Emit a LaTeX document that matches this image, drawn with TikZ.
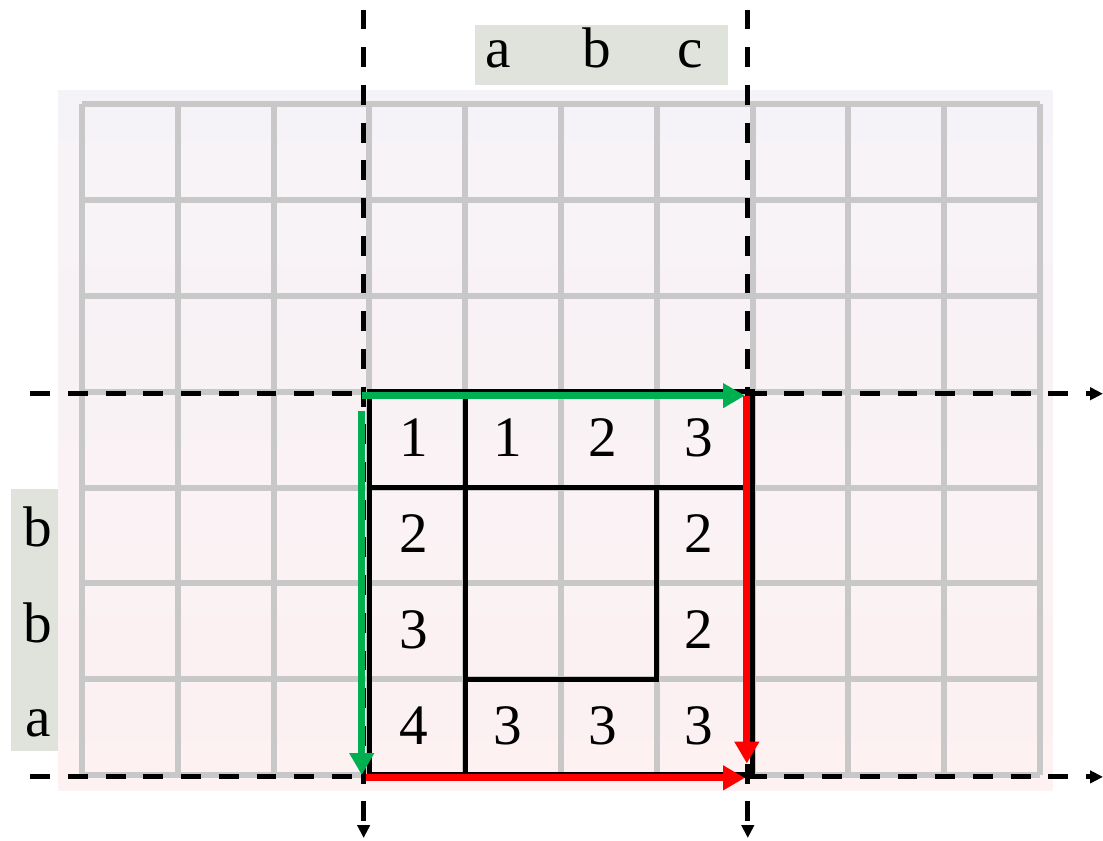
\documentclass[tikz,border=0pt]{standalone}
\usepackage{fontspec}
\setmainfont{Liberation Serif}
\usetikzlibrary{arrows.meta}

\definecolor{rejilla}{HTML}{C8C8C8}
\definecolor{fondoarriba}{HTML}{F6F3F8}
\definecolor{fondoabajo}{HTML}{FDF1F1}
\definecolor{etiqueta}{HTML}{E0E2DC}
\definecolor{verde}{HTML}{00B050}
\definecolor{rojo}{HTML}{FF0000}

\tikzset{
  eje/.style={line width=1.5pt, dash pattern=on 5.9pt off 5.3pt, -{Triangle[width=3.6pt,length=3.8pt]}},
  borde/.style={line width=1.5pt},
  flecha/.style={line width=2pt, -{Triangle[width=7pt,length=6.5pt]}},
  texto/.style={anchor=base, inner sep=0pt, font=\fontsize{17}{20}\selectfont},
}

\begin{document}
\begin{tikzpicture}
        \useasboundingbox (-0.856, -0.689) rectangle (10.658, 8.090);

        % Fondo
        \shade[top color=fondoarriba, bottom color=fondoabajo] (-0.25, -0.16) rectangle (10.13, 7.14);

        % Rejilla
        \draw[rejilla, line width=1.8pt] (0, 0) grid (10, 7);

        % Bordes de las celdas
        \draw[borde] (3, 0) rectangle (7, 4);
        \draw[borde] (3, 3) -- (7, 3);
        \draw[borde] (4, 0) -- (4, 4);
        \draw[borde] (4, 1) -- (6, 1) -- (6, 3);

        % Ejes discontinuos
        \draw[eje] (-0.54, 3.98) -- (10.658, 3.98);
        \draw[eje] (-0.54, -0.02) -- (10.658, -0.02);
        \draw[eje] (2.94, 7.99) -- (2.94, -0.658);
        \draw[eje] (6.95, 7.99) -- (6.95, -0.658);

        % Puntos de las flechas
        \coordinate (ini) at (2.92, 3.96);
        \coordinate (fin) at (6.92, 3.96);
        \coordinate (bajo) at (2.92, 3.80);
        \coordinate (esq) at (2.92, 0);
        \coordinate (rini) at (6.94, 3.96);
        \coordinate (rfin) at (6.94, 0.12);
        \coordinate (hini) at (2.96, -0.03);
        \coordinate (hfin) at (6.92, -0.03);

        % Camino verde
        \draw[flecha, verde] (ini) -- (fin);
        \draw[flecha, verde] (bajo) -- (esq);

        % Camino rojo
        \draw[flecha, rojo] (rini) -- (rfin);
        \draw[flecha, rojo] (hini) -- (hfin);

        % Valores
        \node[texto] (v11) at (3.46, 3.32) {1};
        \node[texto] (v12) at (4.45, 3.32) {1};
        \node[texto] (v13) at (5.44, 3.32) {2};
        \node[texto] (v14) at (6.44, 3.32) {3};
        \node[texto] (v21) at (3.46, 2.32) {2};
        \node[texto] (v24) at (6.44, 2.32) {2};
        \node[texto] (v31) at (3.46, 1.32) {3};
        \node[texto] (v34) at (6.44, 1.32) {2};
        \node[texto] (v41) at (3.46, 0.32) {4};
        \node[texto] (v42) at (4.45, 0.32) {3};
        \node[texto] (v43) at (5.44, 0.32) {3};
        \node[texto] (v44) at (6.44, 0.32) {3};

        % Cadena de arriba
        \fill[etiqueta] (4.10, 7.20) rectangle (6.74, 7.83);
        \node[texto] (sa) at (4.34, 7.39) {a};
        \node[texto] (sb) at (5.37, 7.39) {b};
        \node[texto] (sc) at (6.35, 7.39) {c};

        % Cadena de la izquierda
        \fill[etiqueta] (-0.74, 0.25) rectangle (-0.25, 2.99);
        \node[texto] (tb1) at (-0.46, 2.38) {b};
        \node[texto] (tb2) at (-0.46, 1.38) {b};
        \node[texto] (ta) at (-0.46, 0.40) {a};
    \end{tikzpicture}
\end{document}
